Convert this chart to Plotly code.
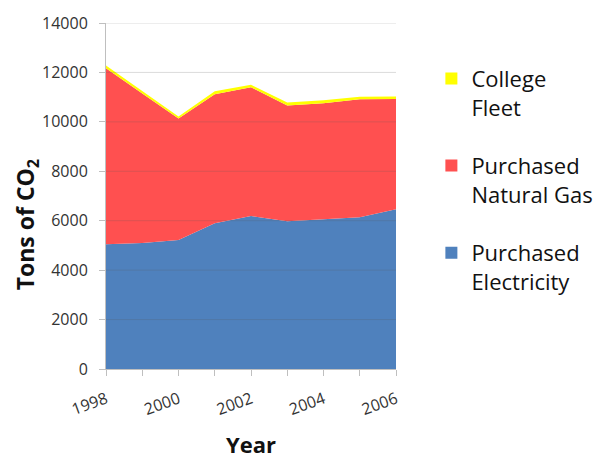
import plotly.graph_objects as go

years = [1998, 1999, 2000, 2001, 2002, 2003, 2004, 2005, 2006]
electricity = [5050, 5100, 5220, 5900, 6190, 5980, 6060, 6140, 6460]
natural_gas = [7120, 6050, 4920, 5215, 5210, 4680, 4690, 4770, 4465]
fleet = [110, 100, 80, 120, 100, 120, 120, 110, 100]
tick_labels = ["1998", "", "2000", "", "2002", "", "2004", "", "2006"]
y_ticks = [0, 2000, 4000, 6000, 8000, 10000, 12000, 14000]

series = [
    ("Purchased<br>Electricity", electricity, "#4F81BD"),
    ("Purchased<br>Natural Gas", natural_gas, "#FF5050"),
    ("College<br>Fleet", fleet, "#FFFF00"),
]

FONT = "Open Sans"
fig = go.Figure()

for name, vals, color in series:
    fig.add_trace(go.Scatter(
        x=years, y=vals, stackgroup="one", mode="none",
        fillcolor=color, name=name, showlegend=False, hoverinfo="skip",
    ))

# legend entries (square markers), top to bottom
for i, (name, vals, color) in enumerate(reversed(series)):
    fig.add_trace(go.Scatter(
        x=[None], y=[None], mode="markers", name=name,
        marker=dict(symbol="square", size=15, color=color),
        legendgroup=f"g{i}", showlegend=True,
    ))

# gridlines drawn over the areas (as in the reference)
for v in y_ticks[1:]:
    fig.add_shape(type="line", xref="paper", yref="y", x0=0, x1=1, y0=v, y1=v,
                  line=dict(color="rgba(90,90,90,0.22)", width=1), layer="above")

fig.update_layout(
    width=607, height=459,
    margin=dict(l=106, r=211, t=23, b=90, autoexpand=False),
    paper_bgcolor="white", plot_bgcolor="white",
    font=dict(family=FONT, color="#222222"),
    showlegend=True,
    legend=dict(
        x=1.122, y=0.9, xanchor="left", yanchor="top",
        font=dict(family=FONT, size=22, color="#111111"),
        tracegroupgap=27, itemsizing="constant", valign="top",
        bgcolor="rgba(0,0,0,0)",
    ),
    annotations=[dict(
        text="<b>Tons of CO<sub>2</sub></b>", textangle=-90,
        xref="paper", yref="paper", x=-0.275, y=0.416,
        xanchor="center", yanchor="middle", showarrow=False,
        font=dict(family=FONT, size=23, color="#111111"),
    )],
)

fig.update_xaxes(
    range=[1998, 2006], tickvals=years, ticktext=tick_labels,
    tickangle=-20, ticks="outside", ticklen=6, tickcolor="#BFBFBF",
    ticklabelstandoff=8, automargin=False,
    showline=True, linecolor="#BFBFBF", linewidth=1,
    showgrid=False, zeroline=False,
    tickfont=dict(family=FONT, size=16, color="#333333"),
    title=dict(text="<b>Year</b>", font=dict(family=FONT, size=22, color="#111111"), standoff=19),
)
fig.update_yaxes(
    range=[0, 14000], tickvals=y_ticks, tickformat="d",
    ticks="outside", ticklen=6, tickcolor="#BFBFBF",
    ticklabelstandoff=8, automargin=False,
    showline=True, linecolor="#BFBFBF", linewidth=1,
    showgrid=False, zeroline=False,
    tickfont=dict(family=FONT, size=16, color="#333333"),
)

fig.write_html("out.html")
